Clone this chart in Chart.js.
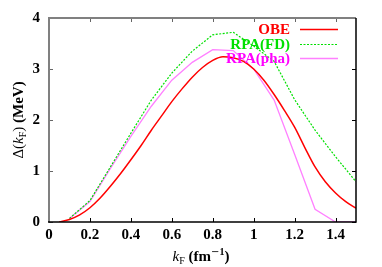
<!DOCTYPE html>
<html>
<head>
<meta charset="utf-8">
<script src="https://cdn.jsdelivr.net/npm/chart.js@4.4.0/dist/chart.umd.min.js"></script>
<style>
html,body{margin:0;padding:0;background:#fff;}
#wrap{width:382px;height:267px;position:relative;}
</style>
</head>
<body>
<div id="wrap"><canvas id="c" width="382" height="267"></canvas></div>
<script>
// ---- data ----
const obeK   = [0.05,0.1,0.15,0.2,0.25,0.3,0.35,0.4,0.45,0.5,0.55,0.6,0.65,0.7,0.75,0.8,0.85,0.9,0.95,1.0,1.05,1.1,1.15,1.2,1.25,1.3,1.35,1.4,1.45,1.5];
const obeVal = [0.0,0.05,0.14,0.28,0.47,0.70,0.95,1.22,1.50,1.80,2.08,2.36,2.61,2.84,3.03,3.17,3.24,3.22,3.15,3.00,2.78,2.50,2.19,1.86,1.46,1.08,0.79,0.57,0.40,0.27];
const fdK    = [0.1,0.2,0.3,0.4,0.5,0.6,0.7,0.8,0.9,1.0,1.1,1.2,1.3,1.4,1.5];
const fdVal  = [0.07,0.42,1.08,1.74,2.39,2.92,3.35,3.67,3.72,3.45,3.15,2.40,1.80,1.28,0.79];
const phaK   = [0.1,0.2,0.3,0.4,0.5,0.6,0.7,0.8,0.9,1.0,1.1,1.2,1.3,1.4,1.5];
const phaVal = [0.07,0.40,1.05,1.68,2.27,2.78,3.13,3.38,3.36,3.00,2.39,1.33,0.25,0.0,0.0];
const xTicks = [0,0.2,0.4,0.6,0.8,1,1.2,1.4];
const yTicks = [0,1,2,3,4];
const seriesNames = ['OBE','RPA(FD)','RPA(pha)'];

const pts = (xs, ys) => xs.map((x,i)=>({x:x,y:ys[i]}));
const SERIF = '"Liberation Serif","DejaVu Serif",serif';

const framePlugin = {
  id:'frame',
  afterDatasetsDraw(chart){
    const {ctx, chartArea:a, scales:{x,y}} = chart;
    ctx.save();
    ctx.lineWidth = 1;
    const tl = 4;
    xTicks.forEach(v=>{
      const px = Math.round(x.getPixelForValue(v))+0.5;
      ctx.strokeStyle='#000';
      ctx.beginPath(); ctx.moveTo(px,a.bottom); ctx.lineTo(px,a.bottom-tl); ctx.stroke();
      ctx.strokeStyle='#666';
      ctx.beginPath(); ctx.moveTo(px,a.top); ctx.lineTo(px,a.top+tl); ctx.stroke();
    });
    yTicks.forEach(v=>{
      const py = Math.round(y.getPixelForValue(v))+0.5;
      ctx.strokeStyle='#666';
      ctx.beginPath(); ctx.moveTo(a.left,py); ctx.lineTo(a.left+tl,py); ctx.stroke();
      ctx.strokeStyle='#000';
      ctx.beginPath(); ctx.moveTo(a.right,py); ctx.lineTo(a.right-tl,py); ctx.stroke();
    });
    // frame
    ctx.lineWidth = 2; ctx.strokeStyle = '#808080';
    ctx.beginPath(); ctx.moveTo(a.left, a.bottom); ctx.lineTo(a.left, a.top); ctx.lineTo(a.right, a.top); ctx.stroke();
    ctx.lineWidth = 1.5; ctx.strokeStyle = '#000';
    ctx.beginPath(); ctx.moveTo(a.right, a.top); ctx.lineTo(a.right, a.bottom); ctx.lineTo(a.left-1, a.bottom); ctx.stroke();

    // legend
    const ds = chart.data.datasets;
    const rows = [29, 44, 58];
    ctx.font = 'bold 15px ' + SERIF;
    ctx.textAlign = 'right'; ctx.textBaseline = 'middle';
    ds.forEach((d,i)=>{
      ctx.fillStyle = d.legendTextColor;
      ctx.fillText(d.label, 290, rows[i]+1);
      ctx.strokeStyle = d.borderColor; ctx.lineWidth = d.borderWidth;
      ctx.setLineDash(d.borderDash || []);
      ctx.beginPath(); ctx.moveTo(300, rows[i]+0.5); ctx.lineTo(338, rows[i]+0.5); ctx.stroke();
      ctx.setLineDash([]);
    });

    // axis titles
    ctx.fillStyle = '#000';
    ctx.textAlign = 'left'; ctx.textBaseline = 'alphabetic';
    const xs = [
      {t:'k', f:'italic 15px '+SERIF, dy:0},
      {t:'F', f:'10px '+SERIF, dy:3},
      {t:' (fm', f:'bold 15px '+SERIF, dy:0},
      {t:'\u2212', f:'10px "DejaVu Sans",sans-serif', dy:-6},
      {t:'1', f:'bold 10px '+SERIF, dy:-6},
      {t:')', f:'bold 15px '+SERIF, dy:0}
    ];
    let w = 0; xs.forEach(s=>{ctx.font=s.f; s.w=ctx.measureText(s.t).width; w+=s.w;});
    let cx = 201 - w/2;
    xs.forEach(s=>{ctx.font=s.f; ctx.fillText(s.t, cx, 261+s.dy); cx+=s.w;});
    const ys = [
      {t:'\u0394(', f:'15px '+SERIF, dy:0},
      {t:'k', f:'italic 15px '+SERIF, dy:0},
      {t:'F', f:'10px '+SERIF, dy:3},
      {t:')', f:'15px '+SERIF, dy:0},
      {t:' (MeV)', f:'bold 15px '+SERIF, dy:0}
    ];
    w = 0; ys.forEach(s=>{ctx.font=s.f; s.w=ctx.measureText(s.t).width; w+=s.w;});
    ctx.translate(23, 120); ctx.rotate(-Math.PI/2);
    cx = -w/2;
    ys.forEach(s=>{ctx.font=s.f; ctx.fillText(s.t, cx, s.dy); cx+=s.w;});
    ctx.restore();
  }
};

new Chart(document.getElementById('c'), {
  type:'line',
  data:{
    datasets:[
      {label:seriesNames[0], data:pts(obeK,obeVal), borderColor:'#ff0000', legendTextColor:'#ff0000', borderWidth:1.5, pointRadius:0, cubicInterpolationMode:'monotone', fill:false},
      {label:seriesNames[1], data:pts(fdK,fdVal), borderColor:'#00e000', legendTextColor:'#00e000', borderWidth:1.2, borderDash:[2,1.5], pointRadius:0, tension:0, fill:false},
      {label:seriesNames[2], data:pts(phaK,phaVal), borderColor:'#ff80ff', legendTextColor:'#ff00ff', borderWidth:1.3, pointRadius:0, tension:0, fill:false}
    ]
  },
  options:{
    responsive:false, animation:false, devicePixelRatio:1,
    layout:{padding:{left:0,right:26,top:18,bottom:0}},
    plugins:{legend:{display:false}, tooltip:{enabled:false}},
    scales:{
      x:{type:'linear', min:0, max:1.5,
        grid:{display:false, drawTicks:false}, border:{display:false},
        afterBuildTicks:s=>{s.ticks = xTicks.map(v=>({value:v}));},
        afterFit:s=>{s.height = 45;},
        ticks:{color:'#000', padding:4, maxRotation:0, autoSkip:false,
          font:{family:SERIF, size:15, weight:'bold'},
          callback:v=>String(Math.round(v*10)/10)}
      },
      y:{type:'linear', min:0, max:4,
        grid:{display:false, drawTicks:false}, border:{display:false},
        afterBuildTicks:s=>{s.ticks = yTicks.map(v=>({value:v}));},
        afterFit:s=>{s.width = 49;},
        ticks:{color:'#000', padding:9,
          font:{family:SERIF, size:15, weight:'bold'}}
      }
    }
  },
  plugins:[framePlugin]
});
</script>
</body>
</html>
